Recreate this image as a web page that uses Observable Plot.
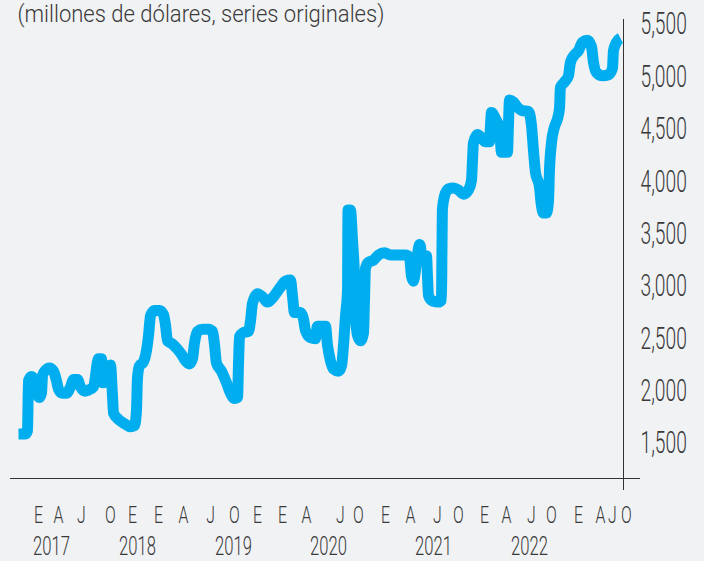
<!DOCTYPE html>
<html>
<head>
<meta charset="utf-8">
<script src="https://cdn.jsdelivr.net/npm/d3@7"></script>
<script src="https://cdn.jsdelivr.net/npm/@observablehq/plot@0.6"></script>
<style>
  html, body { margin: 0; padding: 0; background: #f1f2f4; }
  #chart { width: 704px; height: 561px; }
</style>
</head>
<body>
<div id="chart"></div>
<script>
// Subtitle
const subtitulo = "(millones de dólares, series originales)";

// Series: time (decimal years) and value (millones de dólares)
const fechas = [
  2017.000, 2017.073, 2017.094, 2017.105, 2017.136, 2017.168, 2017.189, 2017.220, 2017.241, 2017.252,
  2017.283, 2017.325, 2017.367, 2017.398, 2017.419, 2017.461, 2017.503, 2017.545, 2017.577, 2017.618,
  2017.650, 2017.692, 2017.734, 2017.786, 2017.839, 2017.870, 2017.881, 2017.922, 2017.964, 2017.985,
  2017.996, 2018.048, 2018.111, 2018.174, 2018.216, 2018.237, 2018.247, 2018.268, 2018.310, 2018.342,
  2018.363, 2018.384, 2018.426, 2018.478, 2018.520, 2018.541, 2018.562, 2018.614, 2018.667, 2018.709,
  2018.751, 2018.792, 2018.824, 2018.845, 2018.876, 2018.929, 2018.992, 2019.034, 2019.055, 2019.075,
  2019.128, 2019.180, 2019.222, 2019.264, 2019.296, 2019.306, 2019.317, 2019.359, 2019.411, 2019.432,
  2019.453, 2019.505, 2019.558, 2019.610, 2019.663, 2019.736, 2019.799, 2019.851, 2019.872, 2019.893,
  2019.956, 2019.987, 2020.008, 2020.061, 2020.113, 2020.134, 2020.218, 2020.239, 2020.270, 2020.302,
  2020.354, 2020.386, 2020.407, 2020.428, 2020.449, 2020.454, 2020.480, 2020.501, 2020.522, 2020.533,
  2020.554, 2020.585, 2020.616, 2020.627, 2020.637, 2020.669, 2020.721, 2020.774, 2020.837, 2020.899,
  2020.973, 2021.057, 2021.099, 2021.119, 2021.140, 2021.172, 2021.203, 2021.214, 2021.224, 2021.277,
  2021.287, 2021.298, 2021.340, 2021.403, 2021.434, 2021.439, 2021.444, 2021.465, 2021.507, 2021.560,
  2021.612, 2021.665, 2021.717, 2021.748, 2021.759, 2021.769, 2021.811, 2021.853, 2021.895, 2021.937,
  2021.948, 2021.958, 2022.000, 2022.042, 2022.063, 2022.126, 2022.136, 2022.147, 2022.189, 2022.231,
  2022.273, 2022.346, 2022.377, 2022.398, 2022.419, 2022.461, 2022.482, 2022.503, 2022.535, 2022.556,
  2022.566, 2022.587, 2022.618, 2022.650, 2022.671, 2022.681, 2022.723, 2022.765, 2022.786, 2022.828,
  2022.870, 2022.912, 2022.964, 2023.006, 2023.027, 2023.059, 2023.122, 2023.185, 2023.226, 2023.237,
  2023.268, 2023.310
];
const valores = [
  1590, 1590, 1620, 2100, 2140, 2100, 1990, 1940, 1980, 2150,
  2200, 2220, 2190, 2100, 2020, 1980, 1980, 2040, 2110, 2110,
  2040, 2000, 2010, 2040, 2310, 2310, 2080, 2120, 2250, 1960,
  1790, 1730, 1690, 1660, 1670, 1820, 2120, 2240, 2280, 2390,
  2530, 2720, 2770, 2770, 2730, 2630, 2480, 2450, 2400, 2350,
  2290, 2260, 2310, 2460, 2570, 2590, 2590, 2570, 2440, 2270,
  2190, 2080, 1980, 1930, 1940, 2250, 2520, 2560, 2570, 2670,
  2840, 2930, 2900, 2850, 2890, 2980, 3050, 3060, 2910, 2750,
  2750, 2690, 2580, 2510, 2500, 2620, 2620, 2440, 2290, 2210,
  2190, 2240, 2440, 2720, 2960, 3730, 3730, 3440, 3100, 2720,
  2530, 2480, 2550, 2870, 3170, 3230, 3250, 3300, 3320, 3300,
  3300, 3300, 3280, 3100, 3050, 3230, 3400, 3380, 3290, 3290,
  3100, 2910, 2860, 2850, 2870, 3340, 3740, 3860, 3930, 3940,
  3920, 3880, 3920, 4010, 4200, 4370, 4450, 4420, 4380, 4380,
  4540, 4660, 4600, 4510, 4280, 4280, 4540, 4780, 4760, 4710,
  4680, 4670, 4540, 4300, 4090, 3950, 3770, 3700, 3700, 3820,
  4110, 4370, 4520, 4600, 4700, 4900, 4950, 5010, 5140, 5210,
  5250, 5330, 5350, 5290, 5140, 5040, 5010, 5020, 5080, 5250,
  5330, 5370
];

// Y axis ticks
const yTicks = [1500, 2000, 2500, 3000, 3500, 4000, 4500, 5000, 5500];

// X axis labels (month initials and years) at their positions on the time axis
const mesLetras = ["E","A","J","O","E","E","A","J","O","E","E","A","J","O","E","A","J","O","E","A","J","O","E","A","J","O"];
const mesFechas = [2017.210, 2017.419, 2017.660, 2017.964, 2018.195, 2018.468, 2018.730, 2019.013, 2019.264, 2019.505,
                   2019.767, 2020.019, 2020.375, 2020.564, 2020.847, 2021.109, 2021.392, 2021.612, 2021.885, 2022.115,
                   2022.377, 2022.587, 2022.870, 2023.101, 2023.226, 2023.373];
const anios = ["2017","2018","2019","2020","2021","2022"];
const anioFechas = [2017.346, 2018.247, 2019.254, 2020.250, 2021.350, 2022.356];

// Scale domains
const xDomain = [2017.0, 2023.342];
const yDomain = [1166, 5538];

const data = fechas.map((t, i) => ({t, v: valores[i]}));
const meses = mesLetras.map((m, i) => ({m, t: mesFechas[i]}));
const years = anios.map((a, i) => ({a, t: anioFechas[i]}));

const textColor = "#3a3a3a";

const chart = Plot.plot({
  width: 704,
  height: 561,
  marginTop: 20,
  marginBottom: 83,
  marginLeft: 18,
  marginRight: 81,
  style: {background: "#f1f2f4", fontFamily: "Roboto, 'Liberation Sans Narrow', sans-serif", fontWeight: 300, color: textColor},
  x: {type: "linear", domain: xDomain, axis: null},
  y: {domain: yDomain, axis: null},
  marks: [
    Plot.line(data, {
      x: "t", y: "v",
      stroke: "#00aeef", strokeWidth: 11,
      strokeLinejoin: "miter", strokeMiterlimit: 4, strokeLinecap: "butt",
      curve: "monotone-x"
    }),
    Plot.ruleY([yDomain[0]], {stroke: "#333", strokeWidth: 1, insetLeft: -8, insetRight: -17}),
    Plot.ruleX([xDomain[1]], {stroke: "#333", strokeWidth: 1, insetTop: -1, insetBottom: -12}),
    Plot.axisY(yTicks, {
      anchor: "right", tickSize: 0, tickPadding: 17, textAnchor: "start",
      tickFormat: d3.format(","), fontSize: 31, label: null, fill: textColor
    }),
    Plot.text(meses, {x: "t", text: "m", frameAnchor: "bottom", dy: 37.3, lineAnchor: "middle", fontSize: 24, fill: textColor}),
    Plot.text(years, {x: "t", text: "a", frameAnchor: "bottom", dy: 67.7, lineAnchor: "middle", fontSize: 26, fill: textColor}),
    Plot.text([subtitulo], {frameAnchor: "top-left", dx: -1, dy: -5.4, textAnchor: "start", lineAnchor: "middle", fontSize: 23, fill: textColor})
  ]
});

document.getElementById("chart").appendChild(chart);

// Condense the typography horizontally (the reference uses a narrow, light face),
// scaling each label about its own anchor point.
d3.select(chart).selectAll("text").each(function() {
  const s = this.textContent;
  const len = this.getComputedTextLength();
  let k;
  if (s === subtitulo) k = 367 / len;
  else if (/^\d,\d{3}$/.test(s)) k = 0.62;
  else if (/^\d{4}$/.test(s)) k = 0.64;
  else k = 0.66;
  const X = +(this.getAttribute("x") || 0);
  const tr = this.getAttribute("transform") || "";
  this.setAttribute("transform", `${tr} translate(${X},0) scale(${k.toFixed(4)},1) translate(${-X},0)`.trim());
});
</script>
</body>
</html>
